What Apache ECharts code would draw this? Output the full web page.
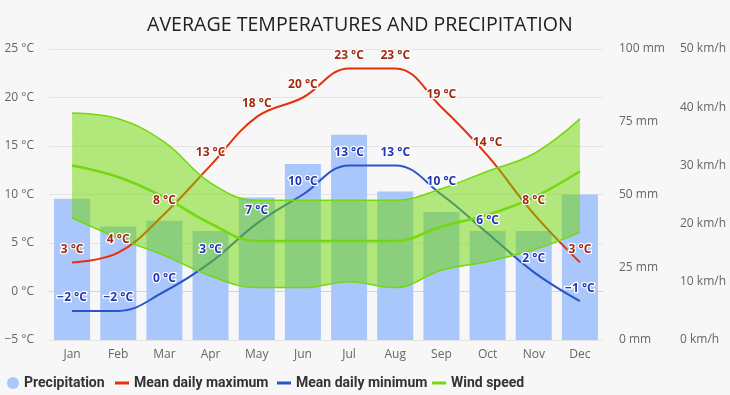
<!DOCTYPE html>
<html>
<head>
<meta charset="utf-8">
<script src="https://cdn.jsdelivr.net/npm/echarts@6/dist/echarts.min.js"></script>
<style>
html,body{margin:0;padding:0;background:#f7f7f7;}
#chart{width:730px;height:395px;}
</style>
</head>
<body>
<div id="chart"></div>
<script>
const months = ['Jan','Feb','Mar','Apr','May','Jun','Jul','Aug','Sep','Oct','Nov','Dec'];
const precipitation = [48.5, 39, 41, 37.5, 49, 60.5, 70.5, 51, 44, 37.5, 37.5, 50];
const tempMax = [3, 4, 8, 13, 18, 20, 23, 23, 19, 14, 8, 3];
const tempMin = [-2, -2, 0, 3, 7, 10, 13, 13, 10, 6, 2, -1];
const windMean = [30, 28, 24.5, 20, 17, 17, 17, 17, 19.5, 21.5, 24.5, 29];
const windLow = [21, 17.5, 14.5, 11, 9, 9, 10, 9, 12, 13.5, 15.5, 18.5];
const windHigh = [39, 38, 34, 27, 24, 24, 24, 24, 26, 29, 32, 38];

const windSpan = windHigh.map((v, i) => v - windLow[i]);
const fmtT = p => (p.value < 0 ? '\u2212' + Math.abs(p.value) : p.value) + ' °C';

const axisFont = {color:'#666', fontSize:12, fontFamily:'Open Sans, sans-serif'};
const legendText = {fontFamily:'Roboto, sans-serif', fontWeight:'bold', fontSize:14, color:'#333', lineHeight:18};
function leg(name, icon, x, w, h) {
  return {data:[name], icon:icon, itemWidth:w, itemHeight:h, left:x, top:374, padding:0, itemGap:0, textStyle:legendText};
}
function labelOf(color) {
  return {show:true, position:'top', distance:7, formatter:fmtT, color:color, fontWeight:'bold', fontSize:12,
    fontFamily:'Open Sans, sans-serif', textBorderColor:'#ffffff', textBorderWidth:2.5};
}
const chart = echarts.init(document.getElementById('chart'), null, {renderer:'canvas'});
chart.setOption({
  backgroundColor:'#f7f7f7',
  animation:false,
  title:{text:'AVERAGE TEMPERATURES AND PRECIPITATION', left:147, top:15, padding:0,
    textStyle:{fontFamily:'Open Sans, sans-serif', fontWeight:'normal', fontSize:19.6, color:'#222'}},
  grid:{left:49, right:127, top:49, bottom:55},
  legend:[
    leg('Precipitation', 'circle', 7, 12, 12),
    leg('Mean daily maximum', 'rect', 115, 14, 3),
    leg('Mean daily minimum', 'rect', 277, 14, 3),
    leg('Wind speed', 'rect', 432, 14, 3)
  ],
  xAxis:{type:'category', data:months, boundaryGap:true,
    axisLine:{lineStyle:{color:'#ccd6eb'}},
    axisTick:{alignWithLabel:true, length:6, lineStyle:{color:'#ccd6eb'}},
    axisLabel:Object.assign({margin:9}, axisFont)},
  yAxis:[
    {type:'value', min:-5, max:25, interval:5, position:'left',
      axisLabel:Object.assign({margin:15, formatter:v => (v < 0 ? '\u2212' + Math.abs(v) : v) + ' °C'}, axisFont),
      splitLine:{lineStyle:{color:'#e4e4e4'}}, axisLine:{show:false}, axisTick:{show:false}},
    {type:'value', min:0, max:100, interval:25, position:'right',
      axisLabel:Object.assign({margin:16, formatter:'{value} mm'}, axisFont),
      splitLine:{show:false}, axisLine:{show:false}, axisTick:{show:false}},
    {type:'value', min:0, max:50, interval:10, position:'right', offset:61,
      axisLabel:Object.assign({margin:16, formatter:'{value} km/h'}, axisFont),
      splitLine:{show:false}, axisLine:{show:false}, axisTick:{show:false}}
  ],
  series:[
    {name:'Precipitation', type:'bar', yAxisIndex:1, data:precipitation, barWidth:36, z:1,
      itemStyle:{color:'#a9c7fa'}},
    {name:'Mean daily maximum', type:'line', yAxisIndex:0, data:tempMax, smooth:0.4, z:2,
      showSymbol:false, itemStyle:{color:'#e5300b'}, lineStyle:{color:'#e5300b', width:2}},
    {name:'Mean daily minimum', type:'line', yAxisIndex:0, data:tempMin, smooth:0.4, z:2,
      showSymbol:false, itemStyle:{color:'#2a55c9'}, lineStyle:{color:'#2a55c9', width:2}},
    {name:'Wind low', type:'line', yAxisIndex:2, data:windLow, stack:'wind', smooth:0.4, z:3,
      showSymbol:false, lineStyle:{color:'#74d80f', width:1.5}, itemStyle:{color:'#74d80f'}},
    {name:'Wind range', type:'line', yAxisIndex:2, data:windSpan, stack:'wind', smooth:0.4, z:3,
      showSymbol:false, lineStyle:{color:'#74d80f', width:1.5}, itemStyle:{color:'#74d80f'},
      areaStyle:{color:'rgba(110,216,0,0.5)', opacity:1}},
    {name:'Wind speed', type:'line', yAxisIndex:2, data:windMean, smooth:0.4, z:4,
      showSymbol:false, lineStyle:{color:'#74d80f', width:2.5}, itemStyle:{color:'#74d80f'}},
    {name:'Max labels', type:'line', yAxisIndex:0, data:tempMax, z:6, silent:true,
      symbol:'circle', symbolSize:0.1, showSymbol:true, itemStyle:{color:'rgba(0,0,0,0)'},
      lineStyle:{width:0, opacity:0}, label:labelOf('#a22a0e')},
    {name:'Min labels', type:'line', yAxisIndex:0, data:tempMin, z:6, silent:true,
      symbol:'circle', symbolSize:0.1, showSymbol:true, itemStyle:{color:'rgba(0,0,0,0)'},
      lineStyle:{width:0, opacity:0}, label:labelOf('#2236b4')}
  ]
});
</script>
</body>
</html>
